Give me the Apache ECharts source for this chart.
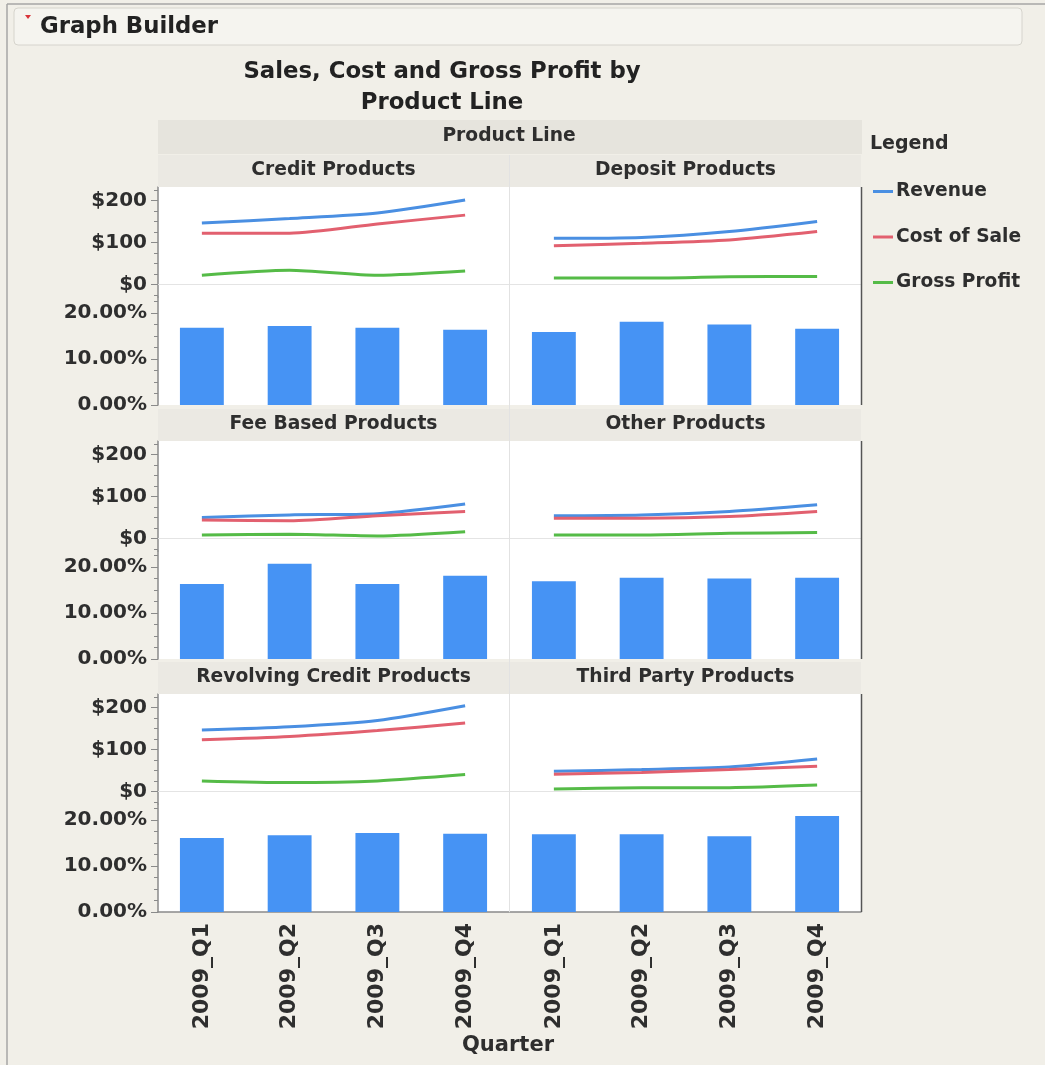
<!DOCTYPE html>
<html>
<head>
<meta charset="utf-8">
<script src="https://cdn.jsdelivr.net/npm/echarts@6/dist/echarts.min.js"></script>
<style>
  html, body { margin: 0; padding: 0; background: #f1efe8; }
  #chart { width: 1045px; height: 1065px; }
</style>
</head>
<body>
<div id="chart"></div>
<script>
// data
const quarters = ["2009_Q1", "2009_Q2", "2009_Q3", "2009_Q4"];
const productLines = [
  "Credit Products", "Deposit Products",
  "Fee Based Products", "Other Products",
  "Revolving Credit Products", "Third Party Products",
];
const revenue = [
  [146, 157, 170, 201], [110, 112, 126, 150],
  [50, 56, 59, 82], [54, 56, 64, 80],
  [146, 154, 169, 204], [48, 52, 58, 77],
];
const costOfSale = [
  [122, 122, 144, 165], [92, 98, 106, 126],
  [44, 42, 54, 64], [48, 48, 52, 64],
  [123, 131, 145, 163], [41, 45, 52, 60],
];
const grossProfit = [
  [22, 34, 22, 32], [15, 15, 18, 19],
  [8, 10, 6, 16], [8, 8, 12, 14],
  [25, 21, 25, 40], [6, 9, 9, 15],
];
const grossMargin = [
  [16.8, 17.2, 16.8, 16.4], [15.9, 18.1, 17.5, 16.6],
  [16.3, 20.7, 16.3, 18.1], [16.9, 17.7, 17.5, 17.7],
  [16.1, 16.7, 17.2, 17.0], [16.9, 16.9, 16.5, 20.9],
];
const moneyTicks = [0, 100, 200];
const pctTicks = [0, 10, 20];
const legendNames = ["Revenue", "Cost of Sale", "Gross Profit"];

// layout
const FONT = "DejaVu Sans";
const TXT = "#2e2e2e";
const colLeft = [158, 510];
const colWidth = 351;
const rowTop = [155, 409, 662];
const headH = 32, lineH = 110, barH = 108;
const lineMin = -30, lineMax = 232, barMax = 23.5;
const lineColors = ["#4a8fe2", "#e2606f", "#55bb47"];

const range = (a, b, s) => { const r = []; for (let v = a; v <= b + 1e-9; v += s) r.push(+v.toFixed(3)); return r; };

const grids = [], xAxes = [], yAxes = [], series = [], graphics = [];

// major axis (line, labels, long ticks) + minor axis (short ticks only), both on the left
const yPair = (gi, left, min, max, major, minor, fmt) => {
  yAxes.push({
    gridIndex: gi, type: "value", position: "left", min, max, show: left,
    splitLine: { show: false },
    axisLine: { show: left, lineStyle: { color: "#8a8a8a", width: 1.5 } },
    axisTick: { show: left, length: 7, customValues: major, lineStyle: { color: "#8a8a8a" } },
    axisLabel: { show: left, customValues: major, formatter: fmt, margin: 11, color: TXT, fontFamily: FONT, fontWeight: "bold", fontSize: 20 },
  });
  yAxes.push({
    gridIndex: gi, type: "value", position: "left", min, max, show: left,
    splitLine: { show: false }, axisLine: { show: false }, axisLabel: { show: false },
    axisTick: { show: left, length: 4, customValues: minor, lineStyle: { color: "#8a8a8a" } },
  });
};

productLines.forEach((name, p) => {
  const r = Math.floor(p / 2), c = p % 2;
  const left = colLeft[c], top = rowTop[r];
  const isLeft = c === 0, isBottom = r === 2;
  const gLine = grids.length;
  grids.push({ left, top: top + headH, width: colWidth, height: lineH, show: true, backgroundColor: "#fff", borderWidth: 0 });
  const gBar = grids.length;
  grids.push({ left, top: top + headH + lineH, width: colWidth, height: barH, show: true, backgroundColor: "#fff", borderWidth: 0 });

  xAxes.push({
    gridIndex: gLine, type: "category", data: quarters,
    axisLine: { show: true, lineStyle: { color: "#e4e4e4" } },
    axisTick: { show: false }, axisLabel: { show: false },
  });
  xAxes.push({
    gridIndex: gBar, type: "category", data: quarters,
    axisLine: { show: isBottom, lineStyle: { color: "#8a8a8a", width: 1.5 } },
    axisTick: { show: false },
    axisLabel: {
      show: isBottom, rotate: 90, margin: 11, interval: 0,
      color: TXT, fontFamily: FONT, fontWeight: "bold", fontSize: 22,
    },
  });

  yPair(gLine, isLeft, lineMin, lineMax, moneyTicks, range(-25, 225, 25), (v) => "$" + v);
  yPair(gBar, isLeft, 0, barMax, pctTicks, range(0, 22.5, 2.5), (v) => v.toFixed(2) + "%");

  [revenue, costOfSale, grossProfit].forEach((arr, k) => {
    series.push({
      name: legendNames[k], type: "line", xAxisIndex: gLine, yAxisIndex: gLine * 2,
      data: arr[p], symbol: "none", smooth: 0.25,
      lineStyle: { color: lineColors[k], width: 3 }, itemStyle: { color: lineColors[k] },
    });
  });
  series.push({
    name: "Gross Margin", type: "bar", xAxisIndex: gBar, yAxisIndex: gBar * 2,
    data: grossMargin[p], barWidth: "50%", itemStyle: { color: "#4693f4" },
  });

  // column header strip
  graphics.push({
    type: "rect", z: 1, shape: { x: left, y: top, width: colWidth, height: headH },
    style: { fill: "#ebe9e3" },
  });
  graphics.push({
    type: "text", z: 2, x: left + colWidth / 2, y: top + headH / 2 - 1,
    style: { text: name, fill: TXT, font: `bold 18.7px "${FONT}"`, align: "center", verticalAlign: "middle" },
  });
});

rowTop.forEach((t) => {
  graphics.push({
    type: "line", z: 3, shape: { x1: 861.5, y1: t + headH, x2: 861.5, y2: t + headH + lineH + barH },
    style: { stroke: "#555", lineWidth: 1.5 },
  });
});

graphics.push(
  { type: "line", z: 0, shape: { x1: 7, y1: 4, x2: 1045, y2: 4 }, style: { stroke: "#a6a6a6", lineWidth: 1.5 } },
  { type: "line", z: 0, shape: { x1: 7, y1: 4, x2: 7, y2: 1065 }, style: { stroke: "#a6a6a6", lineWidth: 1.5 } },
  {
    type: "rect", z: 0, shape: { x: 14, y: 8, width: 1008, height: 37, r: 4 },
    style: { fill: "#f5f4ef", stroke: "#d6d4cd", lineWidth: 1 },
  },
  { type: "polygon", z: 1, shape: { points: [[25, 15], [31, 15], [28, 19]] }, style: { fill: "#d9343a" } },
  {
    type: "text", z: 1, x: 40, y: 27,
    style: { text: "Graph Builder", fill: "#222", font: `bold 22.8px "${FONT}"`, verticalAlign: "middle" },
  },
  { type: "rect", z: 1, shape: { x: 158, y: 120, width: 704, height: 34 }, style: { fill: "#e6e4dd" } },
  {
    type: "text", z: 2, x: 509, y: 136,
    style: { text: "Product Line", fill: TXT, font: `bold 18.7px "${FONT}"`, align: "center", verticalAlign: "middle" },
  },
  { type: "line", z: 3, shape: { x1: 509.5, y1: 155, x2: 509.5, y2: 912 }, style: { stroke: "#e2e2e2", lineWidth: 1 } },
  {
    type: "text", z: 1, x: 870, y: 144,
    style: { text: "Legend", fill: TXT, font: `bold 19px "${FONT}"`, verticalAlign: "middle" },
  },
  {
    type: "text", z: 1, x: 508, y: 1046,
    style: { text: "Quarter", fill: TXT, font: `bold 21px "${FONT}"`, align: "center", verticalAlign: "middle" },
  }
);

const chart = echarts.init(document.getElementById("chart"), null, { renderer: "canvas" });
chart.setOption({
  animation: false,
  backgroundColor: "#f1efe8",
  title: {
    text: "Sales, Cost and Gross Profit by\nProduct Line",
    left: 437, top: 52, textAlign: "center",
    textStyle: { color: "#222", fontFamily: FONT, fontWeight: "bold", fontSize: 22.8, lineHeight: 31 },
  },
  legend: {
    data: legendNames, orient: "vertical", left: 868, top: 177,
    icon: "rect", itemWidth: 20, itemHeight: 3, itemGap: 26.5,
    textStyle: { color: TXT, fontFamily: FONT, fontWeight: "bold", fontSize: 18.6, padding: [0, 0, 0, -2] },
  },
  grid: grids,
  xAxis: xAxes,
  yAxis: yAxes,
  series,
  graphic: graphics,
});
</script>
</body>
</html>
